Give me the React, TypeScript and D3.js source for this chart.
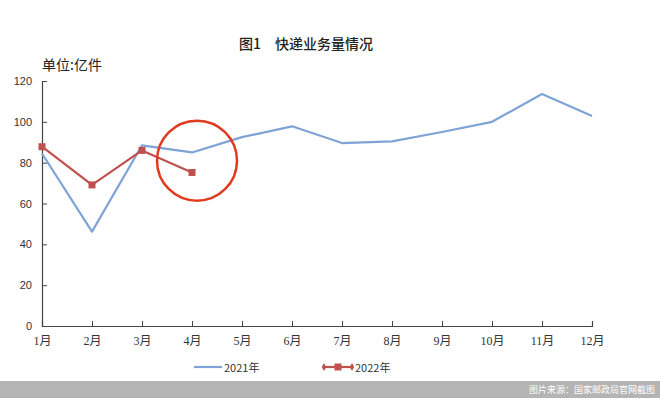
import React, { useEffect, useRef } from 'react';
import * as d3 from 'd3';

const months = ['1月', '2月', '3月', '4月', '5月', '6月', '7月', '8月', '9月', '10月', '11月', '12月'];
const volume2021 = [84.5, 46.2, 88.5, 85.0, 92.5, 97.8, 89.6, 90.4, 95.0, 100.0, 113.6, 102.8];
const volume2022 = [87.8, 69.1, 86.0, 75.2];
const yTicks = [0, 20, 40, 60, 80, 100, 120];

const BLUE = '#7fa3d6';
const RED = '#c0504d';

const App: React.FC = () => {
    const svgRef = useRef<SVGSVGElement>(null);

    useEffect(() => {
        if (!svgRef.current) return;
        const svg = d3.select(svgRef.current);
        svg.selectAll('*').remove();

        const W = 660;
        const H = 398;
        const margin = { top: 81, right: 68, bottom: 72, left: 42 };
        const width = W - margin.left - margin.right;
        const height = H - margin.top - margin.bottom;

        svg.append('rect').attr('width', W).attr('height', H).attr('fill', '#fff');

        // Title
        svg.append('text')
            .attr('x', 306)
            .attr('y', 49)
            .attr('text-anchor', 'middle')
            .attr('font-size', '14px')
            .attr('font-weight', '500')
            .attr('fill', '#222')
            .attr('font-family', '"Noto Sans CJK SC", sans-serif')
            .text('图1　快递业务量情况');

        svg.append('text')
            .attr('x', 42)
            .attr('y', 70)
            .attr('font-size', '14px')
            .attr('fill', '#222')
            .attr('font-family', '"Noto Sans CJK SC", sans-serif')
            .text('单位:亿件');

        const x = d3.scalePoint<string>().domain(months).range([0, width]);
        const y = d3.scaleLinear().domain([0, 120]).range([height, 0]);

        const g = svg.append('g').attr('transform', `translate(${margin.left},${margin.top})`);

        // Y axis
        const yAxis = g.append('g')
            .call(d3.axisLeft(y).tickValues(yTicks).tickSize(-5).tickPadding(10));
        yAxis.select('.domain').attr('stroke', '#444').attr('stroke-width', 1.2);
        yAxis.selectAll('.tick line').attr('stroke', '#444');
        yAxis.selectAll('.tick text')
            .attr('font-size', '11px')
            .attr('fill', '#333')
            .attr('font-family', '"Liberation Sans", Arial, sans-serif');

        // X axis
        const xAxis = g.append('g')
            .attr('transform', `translate(0,${height})`)
            .call(d3.axisBottom(x).tickSize(-5).tickPadding(10));
        xAxis.select('.domain').attr('stroke', '#444').attr('stroke-width', 1.2);
        xAxis.selectAll('.tick line').attr('stroke', '#444');
        xAxis.selectAll('.tick text')
            .attr('font-size', '12px')
            .attr('fill', '#333')
            .attr('font-family', '"Liberation Serif", "Noto Sans CJK SC", serif');

        const line = d3.line<number>()
            .x((_, i) => x(months[i]) as number)
            .y(d => y(d));

        g.append('path')
            .datum(volume2021)
            .attr('fill', 'none')
            .attr('stroke', BLUE)
            .attr('stroke-width', 2.2)
            .attr('stroke-linejoin', 'round')
            .attr('d', line);

        g.append('path')
            .datum(volume2022)
            .attr('fill', 'none')
            .attr('stroke', RED)
            .attr('stroke-width', 2.2)
            .attr('stroke-linejoin', 'round')
            .attr('d', line);

        g.selectAll('.m22')
            .data(volume2022)
            .enter()
            .append('rect')
            .attr('x', (_, i) => (x(months[i]) as number) - 3.5)
            .attr('y', d => y(d) - 3.5)
            .attr('width', 7)
            .attr('height', 7)
            .attr('fill', RED);

        // Highlight circle around April
        g.append('circle')
            .attr('cx', (x('4月') as number) + 5)
            .attr('cy', y(81))
            .attr('r', 40)
            .attr('fill', 'none')
            .attr('stroke', '#e23a1f')
            .attr('stroke-width', 2.5);

        // Legend
        const lg = svg.append('g').attr('transform', 'translate(0,367)');
        lg.append('line').attr('x1', 194).attr('x2', 222).attr('y1', 0).attr('y2', 0)
            .attr('stroke', BLUE).attr('stroke-width', 2.2);
        lg.append('text').attr('x', 224).attr('y', 4.5)
            .attr('font-size', '11px').attr('fill', '#333')
            .attr('font-family', '"Noto Sans CJK SC", sans-serif')
            .text('2021年');
        lg.append('line').attr('x1', 323).attr('x2', 353).attr('y1', 0).attr('y2', 0)
            .attr('stroke', RED).attr('stroke-width', 2.2);
        [324, 352].forEach(cx => {
            lg.append('path')
                .attr('d', d3.symbol(d3.symbolDiamond, 18)())
                .attr('transform', `translate(${cx},0)`)
                .attr('fill', RED);
        });
        lg.append('rect').attr('x', 334.5).attr('y', -3.5).attr('width', 7).attr('height', 7).attr('fill', RED);
        lg.append('text').attr('x', 355).attr('y', 4.5)
            .attr('font-size', '11px').attr('fill', '#333')
            .attr('font-family', '"Noto Sans CJK SC", sans-serif')
            .text('2022年');

        // Footer bar
        svg.append('rect').attr('x', 0).attr('y', 381).attr('width', W).attr('height', 17).attr('fill', '#b4b4b4');
        svg.append('text')
            .attr('x', 655)
            .attr('y', 393)
            .attr('text-anchor', 'end')
            .attr('font-size', '9px')
            .attr('fill', '#fff')
            .attr('font-family', '"Noto Sans CJK SC", sans-serif')
            .text('图片来源：国家邮政局官网截图');
    }, []);

    return (
        <svg
            ref={svgRef}
            width={660}
            height={398}
            style={{ position: 'absolute', left: 0, top: 0, display: 'block' }}
        />
    );
};

export default App;
